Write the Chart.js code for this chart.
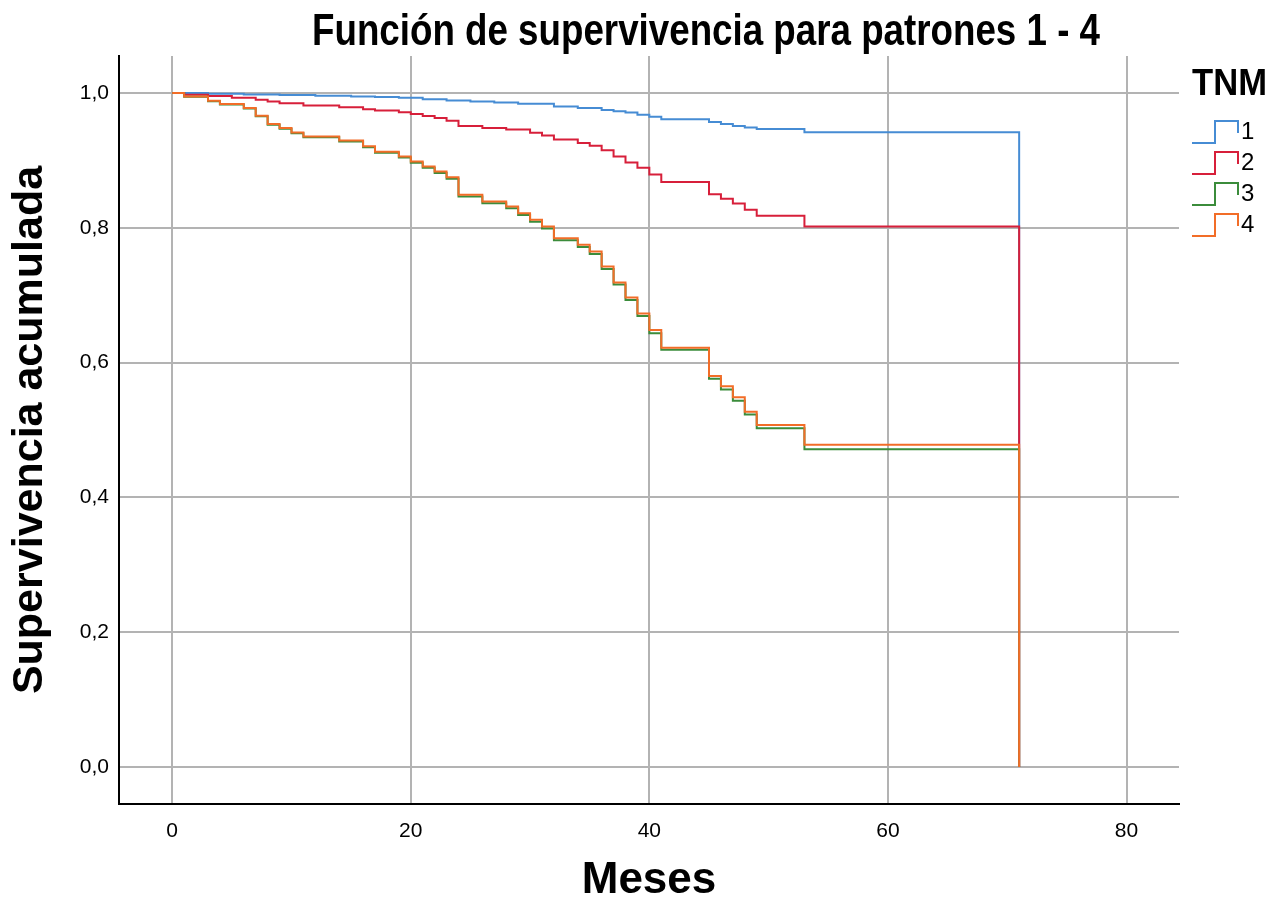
<!DOCTYPE html>
<html lang="es">
<head>
<meta charset="utf-8">
<title>Función de supervivencia para patrones 1 - 4</title>
<script src="https://cdn.jsdelivr.net/npm/chart.js@4.4.1/dist/chart.umd.min.js"></script>
<style>
  html, body { margin: 0; padding: 0; background: #fff; }
  #caja { width: 1282px; height: 904px; }
</style>
</head>
<body>
<div id="caja"><canvas id="grafico"></canvas></div>
<script>
// Datos (meses, supervivencia acumulada) por patrón TNM
const meses1 = [0, 3, 6, 9, 12, 15, 17, 19, 21, 23, 25, 27, 29, 32, 34, 36, 37, 38, 39, 40, 41, 45, 46, 47, 48, 49, 53, 71];
const superv1 = [1.0, 0.999, 0.998, 0.997, 0.996, 0.995, 0.994, 0.993, 0.991, 0.989, 0.9875, 0.986, 0.984, 0.980, 0.978, 0.975, 0.973, 0.971, 0.968, 0.965, 0.961, 0.957, 0.954, 0.951, 0.949, 0.9465, 0.942, 0];

const meses2 = [0, 1, 3, 5, 7, 8, 9, 11, 14, 16, 17, 19, 20, 21, 22, 23, 24, 26, 28, 30, 31, 32, 34, 35, 36, 37, 38, 39, 40, 41, 45, 46, 47, 48, 49, 53, 71];
const superv2 = [1.0, 0.9975, 0.9955, 0.993, 0.990, 0.9875, 0.985, 0.9815, 0.979, 0.976, 0.974, 0.9715, 0.969, 0.966, 0.963, 0.959, 0.951, 0.948, 0.946, 0.941, 0.937, 0.931, 0.926, 0.922, 0.915, 0.906, 0.897, 0.889, 0.879, 0.868, 0.850, 0.843, 0.836, 0.827, 0.818, 0.802, 0];

const meses3 = [0, 1, 3, 4, 6, 7, 8, 9, 10, 11, 14, 16, 17, 19, 20, 21, 22, 23, 24, 26, 28, 29, 30, 31, 32, 34, 35, 36, 37, 38, 39, 40, 41, 45, 46, 47, 48, 49, 53, 71];
const superv3 = [1.0, 0.9945, 0.988, 0.983, 0.977, 0.9655, 0.953, 0.947, 0.9405, 0.9345, 0.928, 0.9195, 0.9115, 0.9045, 0.8965, 0.889, 0.8815, 0.873, 0.8465, 0.8365, 0.829, 0.819, 0.809, 0.799, 0.7815, 0.7715, 0.761, 0.739, 0.716, 0.693, 0.669, 0.6436, 0.619, 0.576, 0.560, 0.5435, 0.523, 0.5025, 0.4713, 0];

const meses4 = [0, 1, 3, 4, 6, 7, 8, 9, 10, 11, 14, 16, 17, 19, 20, 21, 22, 23, 24, 26, 28, 29, 30, 31, 32, 34, 35, 36, 37, 38, 39, 40, 41, 45, 46, 47, 48, 49, 53, 71];
const superv4 = [1.0, 0.995, 0.9886, 0.9836, 0.9777, 0.9663, 0.954, 0.948, 0.9415, 0.9356, 0.9296, 0.921, 0.913, 0.906, 0.8984, 0.891, 0.8836, 0.8752, 0.849, 0.839, 0.8316, 0.8218, 0.812, 0.802, 0.7846, 0.775, 0.7648, 0.7425, 0.719, 0.6965, 0.673, 0.6485, 0.622, 0.580, 0.565, 0.5485, 0.527, 0.5074, 0.478, 0];

const patrones = ['1', '2', '3', '4'];
const colores = ['#468cd4', '#d71f3a', '#3b8c3b', '#f26d28'];
const ticksX = [0, 20, 40, 60, 80];
const ticksY = [0, 0.2, 0.4, 0.6, 0.8, 1.0];

const tituloGrafico = 'Función de supervivencia para patrones 1 - 4';
const tituloX = 'Meses';
const tituloY = 'Supervivencia acumulada';
const tituloLeyenda = 'TNM';

const fuente = '"Liberation Sans", Arial, sans-serif';

const series = [[meses1, superv1], [meses2, superv2], [meses3, superv3], [meses4, superv4]];

const datasets = series.map(([m, s], i) => ({
    label: patrones[i],
    data: m.map((x, j) => ({ x: x, y: s[j] })),
    borderColor: colores[i],
    borderWidth: 2,
    stepped: true,
    pointRadius: 0,
    fill: false,
    order: series.length - i // el 4 queda encima
}));

// texto estrecho (el original usa una letra condensada)
function textoEstrecho(ctx, texto, x, y, ancho) {
    const w = ctx.measureText(texto).width;
    ctx.save();
    ctx.translate(x, y);
    ctx.scale(ancho / w, 1);
    ctx.fillText(texto, 0, 0);
    ctx.restore();
}

// título y leyenda dibujados a mano, con el icono escalonado de SPSS
const rotulos = {
    id: 'rotulos',
    afterDraw(chart) {
        const ctx = chart.ctx;
        const x0 = chart.chartArea.right + 13;
        ctx.save();
        ctx.fillStyle = '#000';
        ctx.textBaseline = 'alphabetic';
        ctx.textAlign = 'left';

        ctx.font = 'bold 45px ' + fuente;
        textoEstrecho(ctx, tituloGrafico, 312, 45, 788);

        ctx.font = 'bold 37px ' + fuente;
        textoEstrecho(ctx, tituloLeyenda, x0, 95, 75);

        ctx.font = '24px ' + fuente;
        chart.data.datasets.forEach((ds, i) => {
            const yb = 143 + i * 31;
            ctx.strokeStyle = ds.borderColor;
            ctx.lineWidth = 2;
            ctx.beginPath();
            ctx.moveTo(x0, yb);
            ctx.lineTo(x0 + 23, yb);
            ctx.lineTo(x0 + 23, yb - 22);
            ctx.lineTo(x0 + 46, yb - 22);
            ctx.lineTo(x0 + 46, yb - 10);
            ctx.stroke();
            ctx.fillText(ds.label, x0 + 49, yb - 4);
        });
        ctx.restore();
    }
};

const soloTicks = (lista) => (scale) => {
    scale.ticks = lista.map(v => ({ value: v }));
};

new Chart(document.getElementById('grafico'), {
    type: 'line',
    data: { datasets: datasets },
    plugins: [rotulos],
    options: {
        responsive: true,
        maintainAspectRatio: false,
        animation: false,
        layout: { padding: { left: 0, right: 103, top: 56, bottom: 0 } },
        plugins: {
            legend: { display: false },
            tooltip: { enabled: false },
            title: { display: false }
        },
        scales: {
            x: {
                type: 'linear',
                min: -4.46,
                max: 84.4,
                afterBuildTicks: soloTicks(ticksX),
                afterFit: (scale) => { scale.height = 100; },
                grid: { color: '#b3b3b3', lineWidth: 2, drawTicks: false },
                border: { color: '#000', width: 2 },
                ticks: {
                    color: '#000',
                    padding: 15,
                    maxRotation: 0,
                    font: { family: fuente, size: 21 },
                    callback: (v) => String(v)
                },
                title: {
                    display: true,
                    text: tituloX,
                    color: '#000',
                    font: { family: fuente, size: 44, weight: 'bold', lineHeight: 1 },
                    padding: { top: 0, bottom: 1 }
                }
            },
            y: {
                type: 'linear',
                min: -0.055,
                max: 1.055,
                afterBuildTicks: soloTicks(ticksY),
                afterFit: (scale) => { scale.width = 119; },
                grid: { color: '#b3b3b3', lineWidth: 2, drawTicks: false },
                border: { color: '#000', width: 2 },
                ticks: {
                    color: '#000',
                    padding: 10,
                    font: { family: fuente, size: 21 },
                    callback: (v) => v.toFixed(1).replace('.', ',')
                },
                title: {
                    display: true,
                    text: tituloY,
                    color: '#000',
                    font: { family: fuente, size: 43, weight: 'bold', lineHeight: 1 },
                    padding: { top: 9, bottom: 0 }
                }
            }
        }
    }
});
</script>
</body>
</html>
